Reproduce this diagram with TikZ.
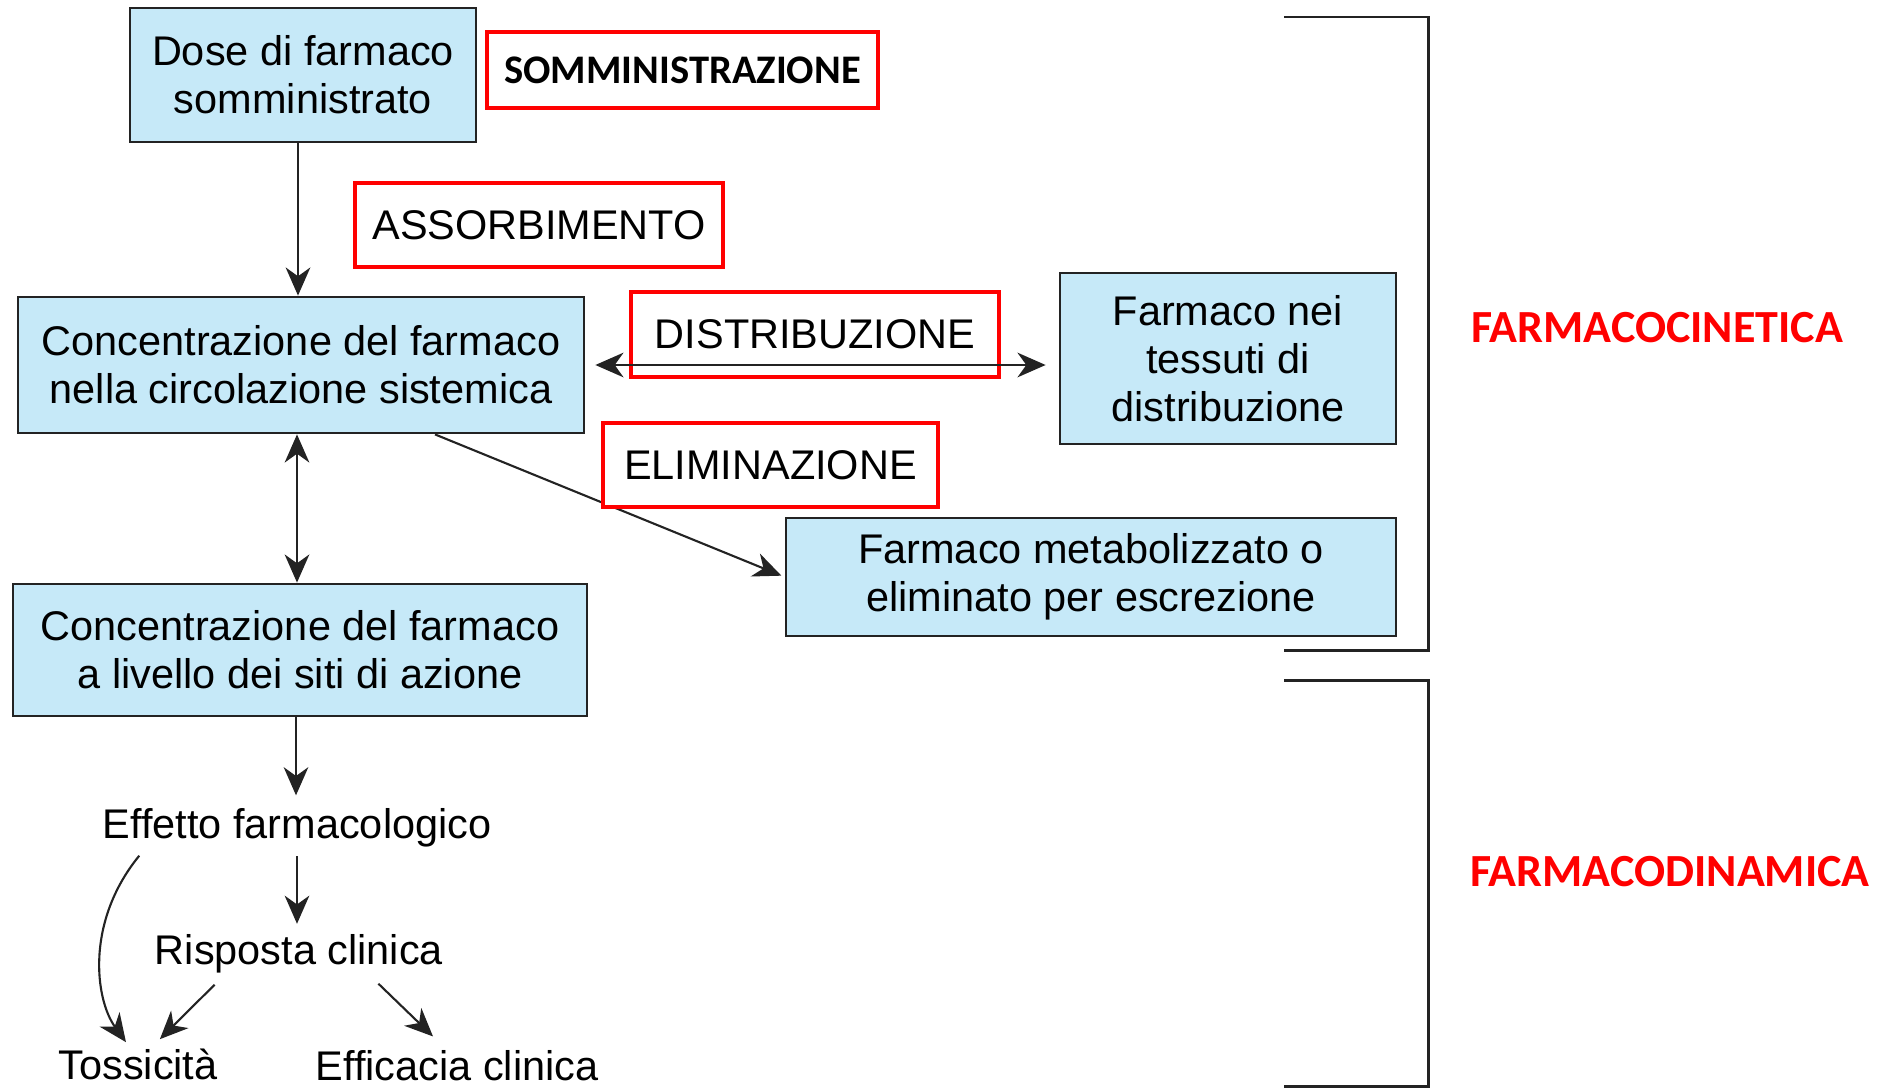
\documentclass[tikz,border=0pt]{standalone}
\usepackage{fontspec}
\setmainfont{Liberation Sans}
\newfontfamily\calibfont{Carlito}
\usetikzlibrary{arrows.meta,positioning,calc}
\definecolor{boxblue}{RGB}{198,233,248}
\definecolor{framegray}{RGB}{35,35,35}
\definecolor{labelred}{RGB}{255,0,0}

\begin{document}
\begin{tikzpicture}[x=0.02cm,y=-0.02cm,
        txt/.style={font=\fontsize{23.6}{27.3}\selectfont, align=center, inner sep=0pt},
        bluebox/.style={txt, draw=framegray, line width=1.6pt, fill=boxblue},
        redbox/.style={txt, draw=labelred, line width=2.4pt, fill=white},
        redlabel/.style={font=\calibfont\bfseries\fontsize{26.2}{30}\selectfont, text=labelred, inner sep=0pt},
        arr/.style={-{Stealth[length=16pt,width=14pt,inset=5pt]}, line width=1.4pt, framegray},
        dblarr/.style={{Stealth[length=16pt,width=14pt,inset=5pt]}-{Stealth[length=16pt,width=14pt,inset=5pt]}, line width=1.4pt, framegray},
        bracket/.style={line width=1.7pt, framegray}]

    \useasboundingbox (0,0) rectangle (1885,1088);

    % boxes
    \node[bluebox, minimum width=6.92cm, minimum height=2.68cm] (dose) at (303,75) {Dose di farmaco\\somministrato};
    \node[redbox, minimum width=7.82cm, minimum height=1.52cm,
        font=\calibfont\bfseries\fontsize{23.1}{26}\selectfont] (somm) at (682.5,70) {SOMMINISTRAZIONE};
    \node[redbox, minimum width=7.36cm, minimum height=1.68cm] (assorb) at (539,225) {ASSORBIMENTO};
    \node[bluebox, minimum width=11.32cm, minimum height=2.72cm] (circ) at (301,365) {Concentrazione del farmaco\\nella circolazione sistemica};
    \node[bluebox, minimum width=6.72cm, minimum height=3.42cm] (tess) at (1228,358.5) {Farmaco nei\\tessuti di\\distribuzione};
    \node[bluebox, minimum width=12.2cm, minimum height=2.36cm] (metab) at (1091,577) {Farmaco metabolizzato o\\eliminato per escrezione};
    \node[bluebox, minimum width=11.48cm, minimum height=2.64cm] (siti) at (300,650) {Concentrazione del farmaco\\a livello dei siti di azione};

    \node[txt] (effetto) at (297,828) {Effetto farmacologico};
    \node[txt] (risposta) at (299,954) {Risposta clinica};
    \node[txt] (toss) at (138,1064) {Tossicità};
    \node[txt] (effic) at (457,1066) {Efficacia clinica};

    % connectors
    \draw[arr] ([xshift=-0.1cm]dose.south) -- ([xshift=-0.1cm]dose.south |- circ.north);
    \node[redbox, minimum width=7.36cm, minimum height=1.70cm] (distr) at (815,334.5) {DISTRIBUZIONE};
    \draw[dblarr, shorten <=5.7pt, shorten >=7.4pt] (circ.east) -- (circ.east -| tess.west);
    \draw[arr, line width=1.2pt, shorten >=2pt] ($(circ.south)+(134,0)$) -- (metab.west);
    \node[redbox, minimum width=6.70cm, minimum height=1.68cm] (elim) at (770.5,465) {ELIMINAZIONE};
    \draw[dblarr] ([xshift=-0.08cm]circ.south) -- ([xshift=-0.08cm]circ.south |- siti.north);
    \draw[arr, shorten >=7.4pt] ([xshift=-0.08cm]siti.south) -- ([xshift=-0.08cm]siti.south |- effetto.north);
    \draw[arr, shorten <=5pt, shorten >=6pt] (effetto.south) -- (effetto.south |- risposta.north);
    \draw[arr, line width=1.2pt] ($(effetto.south west)+(37,8)$) .. controls +(-54,66) and +(-31,-43) .. ($(toss.north)+(-12,-6)$);
    \draw[arr, line width=1.2pt] ($(risposta.south west)+(60,11)$) -- ($(toss.north east)+(-58,-9)$);
    \draw[arr, line width=1.2pt] ($(risposta.south east)+(-65,10)$) -- ($(effic.north)+(-24,-14)$);

    % brackets and labels
    \foreach \top/\bot in {17/650,680/1086}
    \draw[bracket] (1284,\top) -| (1428,\bot) -- (1284,\bot);

    \node[redlabel] (cinetica) at (1657,328) {FARMACOCINETICA};
    \node[redlabel] (dinamica) at (1670,872) {FARMACODINAMICA};
\end{tikzpicture}
\end{document}
